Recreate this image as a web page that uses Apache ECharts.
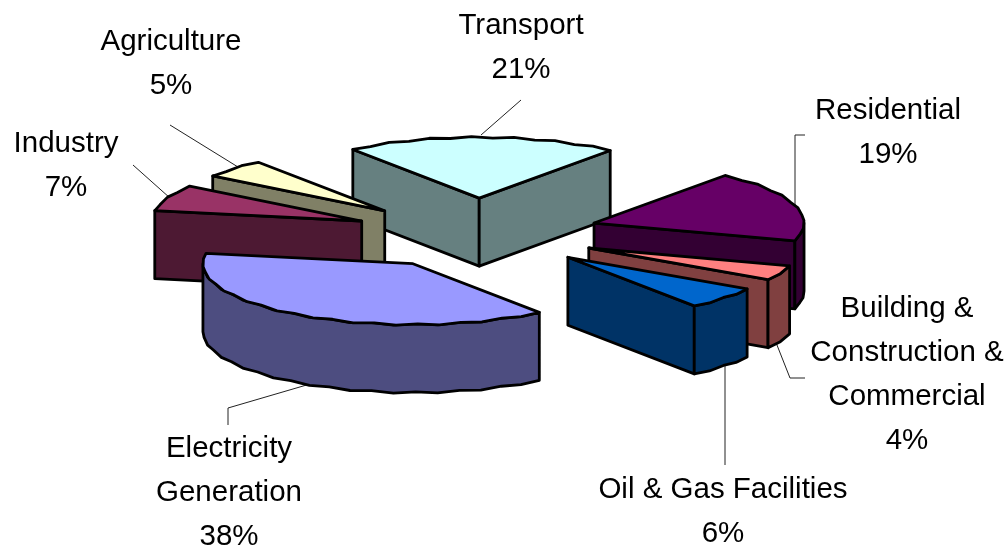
<!DOCTYPE html>
<html>
<head>
<meta charset="utf-8">
<script src="https://cdn.jsdelivr.net/npm/echarts@6/dist/echarts.min.js"></script>
<style>html,body{margin:0;padding:0;background:#fff}#c{width:1008px;height:553px}</style>
</head>
<body>
<div id="c"></div>
<script>
// Data, clockwise from the slice at the back
var categories = ['Transport', 'Residential', 'Building & Construction & Commercial', 'Oil & Gas Facilities', 'Electricity Generation', 'Industry', 'Agriculture'];
var shares = [21, 19, 4, 6, 38, 7, 5];
var labelTexts = ['Transport\n21%', 'Residential\n19%', 'Building &\nConstruction &\nCommercial\n4%', 'Oil & Gas Facilities\n6%', 'Electricity\nGeneration\n38%', 'Industry\n7%', 'Agriculture\n5%'];

// Styles
var topColors = ['#CCFFFF', '#660066', '#FF8080', '#0066CC', '#9999FF', '#993366', '#FFFFCC'];
var sideColors = ['#668080', '#330033', '#804040', '#003366', '#4D4D80', '#4D1933', '#808066'];
var paintOrder = [0, 3, 4, 5, 6, 2, 1]; // z per slice
var sliceNudge = [[0, 0], [0, 0], [0, 0], [0, 0], [-1, 0], [-3, 1], [-5, 2]];

// Projection of the tilted pie
var centerX = 477.5, centerY = 233.5, radius = 210, tilt = 0.29, thick = 68, explode = 122, startDeg = -37;
var arcStep = 6, arcRipple = 0.7;

// Label layout: centre x, first-line centre y, leader polyline
var labelLayout = [
  {x: 521, y: 26, line: [[521, 100], [481, 135]]},
  {x: 888, y: 111, line: [[805, 135], [795, 135], [795, 205]]},
  {x: 907, y: 309, line: [[805, 378], [790, 378], [775, 340]]},
  {x: 723, y: 490, line: [[725, 465], [725, 360]]},
  {x: 229, y: 449, line: [[228, 425], [228, 408], [310, 384]]},
  {x: 66, y: 144, line: [[133, 165], [170, 198]]},
  {x: 171, y: 42, line: [[170, 125], [238, 167]]}
];
var font = '29.5px "Liberation Sans", Arial, sans-serif', lineGap = 44;

var total = shares.reduce(function (a, b) { return a + b; }, 0);
function pt(ox, oy, deg, r, h) {
  var a = deg * Math.PI / 180;
  return [ox + r * Math.sin(a), oy - r * Math.cos(a) * tilt + (h || 0)];
}
function arcPts(ox, oy, a0, a1, h) {
  var out = [], n = Math.max(1, Math.round((a1 - a0) / arcStep));
  for (var i = 0; i <= n; i++) {
    var p = pt(ox, oy, a0 + (a1 - a0) * i / n, radius, h);
    if (i > 0 && i < n) p[1] += (i % 2 ? arcRipple : -arcRipple);
    out.push(p);
  }
  return out;
}
function poly(points, fill, z) {
  return {type: 'polygon', z2: z, shape: {points: points},
    style: {fill: fill, stroke: '#000', lineWidth: 2.8, lineJoin: 'round'}};
}
function renderItem(params, api) {
  var idx = params.dataIndex, before = 0;
  for (var i = 0; i < idx; i++) before += shares[i];
  var v = api.value(0);
  var a0 = startDeg + before / total * 360, a1 = a0 + v / total * 360, mid = (a0 + a1) / 2;
  var o = pt(centerX, centerY, mid, explode);
  var ox = o[0] + sliceNudge[idx][0], oy = o[1] + sliceNudge[idx][1];
  var z = paintOrder[idx] * 10, kids = [];
  var s = pt(ox, oy, a0, radius), e = pt(ox, oy, a1, radius);
  function wall(p, q) {
    kids.push(poly([p, q, [q[0], q[1] + thick], [p[0], p[1] + thick]], sideColors[idx], z));
  }
  if (s[0] < ox) wall([ox, oy], s);
  if (e[0] > ox) wall(e, [ox, oy]);
  var f0 = Math.max(a0, 90), f1 = Math.min(a1, 270);
  if (f1 > f0) {
    kids.push(poly(arcPts(ox, oy, f0, f1, 0).concat(arcPts(ox, oy, f0, f1, thick).reverse()), sideColors[idx], z + 1));
  }
  kids.push(poly([[ox, oy]].concat(arcPts(ox, oy, a0, a1, 0)), topColors[idx], z + 2));
  return {type: 'group', children: kids};
}

var graphics = [];
labelLayout.forEach(function (l, i) {
  graphics.push({type: 'polyline', z: 0, silent: true, shape: {points: l.line},
    style: {stroke: '#222', lineWidth: 1, fill: null}});
  labelTexts[i].split('\n').forEach(function (t, j) {
    graphics.push({type: 'text', z: 10, silent: true, x: l.x, y: l.y + j * lineGap,
      style: {text: t, font: font, fill: '#000', textAlign: 'center', textVerticalAlign: 'middle'}});
  });
});

var chart = echarts.init(document.getElementById('c'), null, {renderer: 'canvas'});
chart.setOption({
  animation: false,
  backgroundColor: '#fff',
  graphic: {elements: graphics},
  series: [{
    type: 'custom', coordinateSystem: 'none', silent: true, z: 2,
    renderItem: renderItem,
    data: categories.map(function (c, i) { return {name: c, value: [shares[i]]}; })
  }]
});
</script>
</body>
</html>
